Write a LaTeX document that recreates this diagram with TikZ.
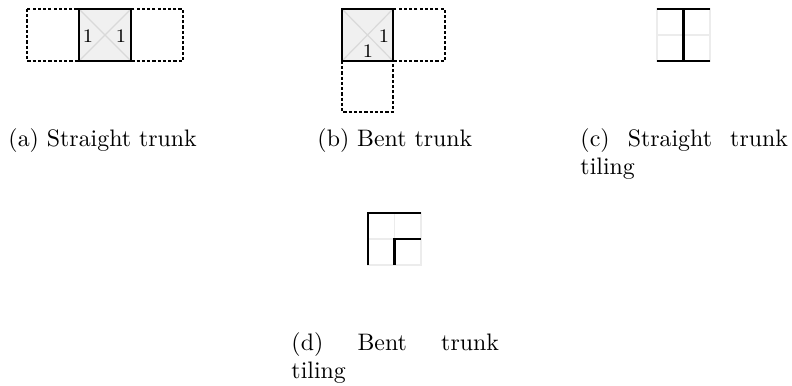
\documentclass[tikz,border=0pt]{standalone}
\begin{document}
\begin{tikzpicture}[x=0.4193pt,y=-0.4193pt,
  cellfill/.style={fill=gray!12},
  cellline/.style={draw=black, line width=1pt},
  ghost/.style={draw=black, line width=0.85pt, dash pattern=on 1.3pt off 0.9pt},
  diag/.style={draw=gray!30, line width=0.5pt},
  gridline/.style={draw=gray!15, line width=0.5pt},
  wall/.style={draw=black, line width=1.2pt},
  num/.style={font=\footnotesize, inner sep=0pt},
  captext/.style={anchor=north west, inner sep=0pt, text width=87pt, align=justify}]
\useasboundingbox (0,0) rectangle (792,386);

% (a) straight trunk
\draw[ghost] (27,9) rectangle (79,61);
\draw[ghost] (131,9) rectangle (183,61);
\fill[cellfill] (79,9) rectangle (131,61);
\draw[diag] (79,9) -- (131,61) (79,61) -- (131,9);
\draw[cellline] (79,9) rectangle (131,61);
\node[num] (a1) at (88,36) {1};
\node[num] (a2) at (121,36) {1};

% (b) bent trunk
\draw[ghost] (393,9) rectangle (445,61);
\draw[ghost] (342,61) rectangle (393,112);
\fill[cellfill] (342,9) rectangle (393,61);
\draw[diag] (342,9) -- (393,61) (342,61) -- (393,9);
\draw[cellline] (342,9) rectangle (393,61);
\node[num] (b1) at (384,36) {1};
\node[num] (b2) at (368,51) {1};

% (c) straight trunk tiling
\draw[gridline] (657,9) rectangle (710,61) (683.5,9) -- (683.5,61) (657,35) -- (710,35);
\draw[wall] (657,9) -- (710,9);
\draw[wall] (657,61) -- (710,61);
\draw[wall] (683.5,9) -- (683.5,61);

% (d) bent trunk tiling
\draw[gridline] (368,213) rectangle (421,265) (394.5,213) -- (394.5,265) (368,239) -- (421,239);
\draw[wall] (368,265) -- (368,213) -- (421,213);
\draw[wall] (394.5,265) -- (394.5,239) -- (421,239);

% captions
\node[captext] (capa) at (8,128) {(a) Straight trunk};
\node[captext] (capb) at (317,128) {(b) Bent trunk};
\node[captext] (capc) at (580,128) {(c) Straight trunk tiling};
\node[captext] (capd) at (291,332) {(d) Bent trunk tiling};
\end{tikzpicture}
\end{document}
